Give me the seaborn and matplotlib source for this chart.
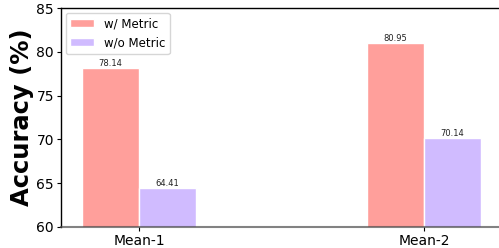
import matplotlib
matplotlib.use("Agg")
import matplotlib.pyplot as plt
import seaborn as sns
import pandas as pd

categories = ["Mean-1", "Mean-2"]
with_metric = [78.14, 80.95]
without_metric = [64.41, 70.14]
series_names = ["w/ Metric", "w/o Metric"]

df = pd.DataFrame({
    "cat": categories * 2,
    "val": with_metric + without_metric,
    "series": [series_names[0]] * 2 + [series_names[1]] * 2,
})

sns.set_style("white")
plt.rcParams['font.family'] = ['DejaVu Sans']
plt.rcParams['text.color'] = 'black'
plt.rcParams['axes.labelcolor'] = 'black'
plt.rcParams['xtick.color'] = 'black'
plt.rcParams['ytick.color'] = 'black'
fig = plt.figure(figsize=(4.99, 2.48), dpi=100)
ax = fig.add_axes([61/499, 21/248, (505-61)/499, 219/248])
sns.barplot(data=df, x="cat", y="val", hue="series",
            palette=["#ff9f9b", "#d0bbff"], saturation=1, width=0.4, ax=ax,
            edgecolor="white", linewidth=1)
ax.set_ylim(60, 85)
ax.set_xlim(-0.274, 1.284)
ax.set_yticks([60, 65, 70, 75, 80, 85])
ax.tick_params(axis='both', labelsize=10, length=3, width=0.8, pad=2, left=True, bottom=True)
ax.set_xlabel("")
ax.set_ylabel("Accuracy (%)", fontsize=17.5, fontweight="bold", labelpad=2)
for c in ax.containers:
    ax.bar_label(c, fmt="%.2f", fontsize=6, padding=0, color="#222222")
for s in ["top", "left", "right"]:
    ax.spines[s].set_color("black")
    ax.spines[s].set_linewidth(1)
ax.spines["bottom"].set_color((0.3, 0.3, 0.3, 0.7))
ax.spines["bottom"].set_linewidth(1.5)
ax.spines["bottom"].set_zorder(5)
ax.legend(loc="upper left", fontsize=8.5, frameon=True, borderaxespad=0.4)
fig.savefig("out.png", dpi=100)
